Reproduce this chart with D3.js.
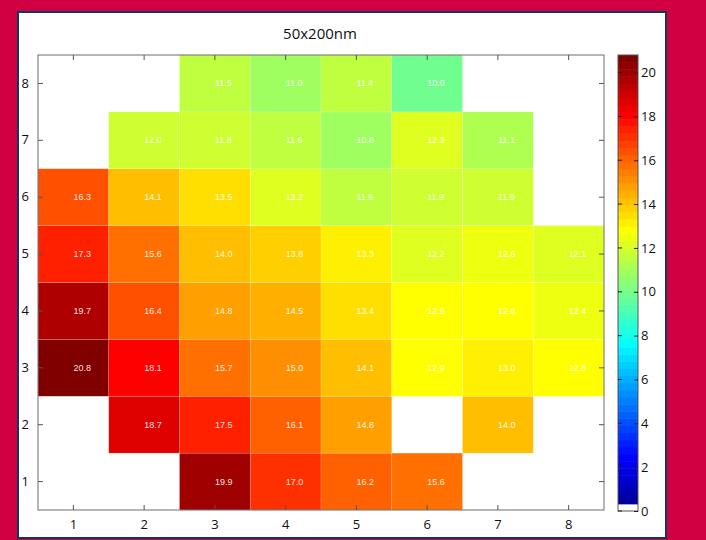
<!DOCTYPE html>
<html>
<head>
<meta charset="utf-8">
<script src="https://cdn.jsdelivr.net/npm/d3@7"></script>
<style>
  body { margin: 0; background: #d10042; }
  svg { display: block; }
</style>
</head>
<body>
<div id="chart"></div>
<script>
// rij/kolom nummers
var xCats = [1, 2, 3, 4, 5, 6, 7, 8];
var yCats = [1, 2, 3, 4, 5, 6, 7, 8];

// waarden per rij (rij 1 onderaan), null = leeg vakje
var row1 = [null, null, 19.9, 17.0, 16.2, 15.6, null, null];
var row2 = [null, 18.7, 17.5, 16.1, 14.8, null, 14.0, null];
var row3 = [20.8, 18.1, 15.7, 15.0, 14.1, 12.9, 13.0, 12.8];
var row4 = [19.7, 16.4, 14.8, 14.5, 13.4, 12.9, 12.8, 12.4];
var row5 = [17.3, 15.6, 14.0, 13.8, 13.3, 12.2, 12.6, 12.1];
var row6 = [16.3, 14.1, 13.5, 12.2, 11.6, 11.9, 11.9, null];
var row7 = [null, 12.0, 11.8, 11.6, 10.8, 12.3, 11.1, null];
var row8 = [null, null, 11.5, 11.0, 11.4, 10.0, null, null];
var rows = [row1, row2, row3, row4, row5, row6, row7, row8];

var colorTicks = [0, 2, 4, 6, 8, 10, 12, 14, 16, 18, 20];
var title = '50x200nm';
var cMin = 0, cMax = 20.8;

// jet(64) kleurenkaart, eerste kleur wit
function jet(m) {
  var n = Math.ceil(m / 4);
  var u = [];
  for (var i = 1; i <= n; i++) u.push(i / n);
  for (var i = 0; i < n - 1; i++) u.push(1);
  for (var i = n; i >= 1; i--) u.push(i / n);
  var g0 = Math.ceil(n / 2) - (m % 4 == 1 ? 1 : 0);
  var J = [];
  for (var i = 0; i < m; i++) J.push([0, 0, 0]);
  u.forEach(function(v, k) {
    var g = g0 + k + 1, r = g + n, b = g - n;
    if (r >= 1 && r <= m) J[r - 1][0] = v;
    if (g >= 1 && g <= m) J[g - 1][1] = v;
    if (b >= 1 && b <= m) J[b - 1][2] = v;
  });
  return J.map(function(c) {
    return d3.rgb(c[0] * 255, c[1] * 255, c[2] * 255).toString();
  });
}
var cmap = jet(64);
cmap[0] = '#ffffff';

function colorOf(v) {
  var idx = Math.floor((v - cMin) / (cMax - cMin) * 64);
  if (idx > 63) idx = 63;
  if (idx < 0) idx = 0;
  return cmap[idx];
}

var W = 706, H = 540;
var plot = {left: 38, right: 604, top: 55, bottom: 510};
var bar = {left: 618, right: 638, top: 55, bottom: 511};

var svg = d3.select('#chart').append('svg')
  .attr('width', W)
  .attr('height', H);

// wit paneel met blauwe rand
svg.append('rect')
  .attr('x', 18).attr('y', 12)
  .attr('width', 648).attr('height', 526)
  .attr('fill', '#ffffff')
  .attr('stroke', '#0b3a5e')
  .attr('stroke-width', 2);

svg.append('text')
  .attr('x', 320).attr('y', 39)
  .attr('text-anchor', 'middle')
  .attr('font-family', 'Open Sans, sans-serif')
  .attr('font-size', 15)
  .attr('fill', '#111')
  .text(title);

var xScale = d3.scaleBand().domain(xCats).range([plot.left, plot.right]);
var yScale = d3.scaleBand().domain(yCats).range([plot.bottom, plot.top]);

var cells = [];
rows.forEach(function(r, i) {
  r.forEach(function(v, j) {
    if (v !== null) cells.push({x: xCats[j], y: yCats[i], v: v});
  });
});

var g = svg.append('g');

g.selectAll('.cell')
  .data(cells)
  .enter().append('rect')
  .attr('class', 'cell')
  .attr('x', function(d) { return xScale(d.x); })
  .attr('y', function(d) { return yScale(d.y); })
  .attr('width', xScale.bandwidth())
  .attr('height', yScale.bandwidth())
  .attr('fill', function(d) { return colorOf(d.v); })
  .attr('stroke', 'rgba(255,255,255,0.25)')
  .attr('stroke-width', 0.6);

g.selectAll('.val')
  .data(cells)
  .enter().append('text')
  .attr('class', 'val')
  .attr('x', function(d) { return xScale(d.x) + xScale.bandwidth() / 2; })
  .attr('y', function(d) { return yScale(d.y) + yScale.bandwidth() / 2 + 3; })
  .attr('font-family', 'Liberation Sans Narrow, Liberation Sans, sans-serif')
  .attr('font-size', 9)
  .attr('fill', '#ffffff')
  .attr('fill-opacity', 0.9)
  .text(function(d) { return d.v.toFixed(1); });

// kader
g.append('rect')
  .attr('x', plot.left).attr('y', plot.top)
  .attr('width', plot.right - plot.left).attr('height', plot.bottom - plot.top)
  .attr('fill', 'none')
  .attr('stroke', '#6e6e6e')
  .attr('stroke-width', 1);

// assen met ticks naar binnen
var tickLen = 5;
var xAxis = d3.axisBottom(xScale).tickSizeInner(-tickLen).tickSizeOuter(0).tickPadding(10);
var yAxis = d3.axisLeft(yScale).tickSizeInner(-tickLen).tickSizeOuter(0).tickPadding(9);

var xa = svg.append('g')
  .attr('transform', 'translate(0,' + plot.bottom + ')')
  .call(xAxis);
var ya = svg.append('g')
  .attr('transform', 'translate(' + plot.left + ',0)')
  .call(yAxis);
var xt = svg.append('g')
  .attr('transform', 'translate(0,' + plot.top + ')')
  .call(d3.axisTop(xScale).tickSizeInner(-tickLen).tickSizeOuter(0).tickFormat(''));
var yr = svg.append('g')
  .attr('transform', 'translate(' + plot.right + ',0)')
  .call(d3.axisRight(yScale).tickSizeInner(-tickLen).tickSizeOuter(0).tickFormat(''));

[xa, ya, xt, yr].forEach(function(a) {
  a.select('.domain').remove();
  a.selectAll('line').attr('stroke', '#555');
  a.selectAll('text')
    .attr('font-family', 'Open Sans, sans-serif')
    .attr('font-size', 13)
    .attr('fill', '#111');
});

// kleurenbalk
var cScale = d3.scaleLinear().domain([cMin, cMax]).range([bar.bottom, bar.top]);
var step = (cMax - cMin) / 64;
svg.selectAll('.cb')
  .data(cmap)
  .enter().append('rect')
  .attr('class', 'cb')
  .attr('x', bar.left)
  .attr('y', function(d, i) { return cScale(cMin + (i + 1) * step); })
  .attr('width', bar.right - bar.left)
  .attr('height', function(d, i) { return cScale(cMin + i * step) - cScale(cMin + (i + 1) * step) + 0.5; })
  .attr('fill', function(d) { return d; });

svg.append('rect')
  .attr('x', bar.left).attr('y', bar.top)
  .attr('width', bar.right - bar.left).attr('height', bar.bottom - bar.top)
  .attr('fill', 'none')
  .attr('stroke', '#555')
  .attr('stroke-width', 1);

var ca = svg.append('g')
  .attr('transform', 'translate(' + bar.right + ',0)')
  .call(d3.axisRight(cScale).tickValues(colorTicks).tickSizeInner(-4).tickSizeOuter(0).tickPadding(3));
ca.select('.domain').remove();
ca.selectAll('line').attr('stroke', '#222');
ca.selectAll('text')
  .attr('font-family', 'Open Sans, sans-serif')
  .attr('font-size', 13)
  .attr('fill', '#111');
svg.selectAll('.cbl')
  .data(colorTicks)
  .enter().append('line')
  .attr('x1', bar.left).attr('x2', bar.left + 4)
  .attr('y1', function(d) { return cScale(d); })
  .attr('y2', function(d) { return cScale(d); })
  .attr('stroke', '#222');
</script>
</body>
</html>
